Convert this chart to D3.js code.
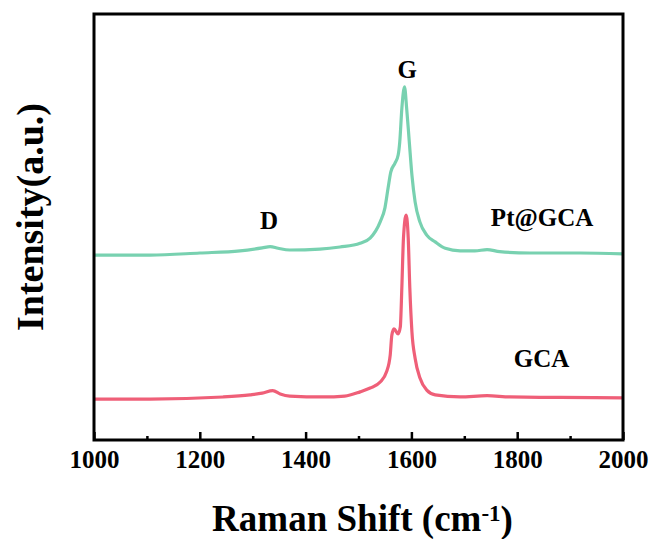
<!DOCTYPE html>
<html>
<head>
<meta charset="utf-8">
<script src="https://cdn.jsdelivr.net/npm/d3@7"></script>
<style>
  body { margin: 0; background: #fff; }
  svg text { font-family: "Liberation Serif", "Times New Roman", serif; font-weight: bold; fill: #000; }
</style>
</head>
<body>
<div id="chart"></div>
<script>
// Raman shift (cm-1) sampled along each trace
var shiftPt = [1000, 1106, 1200, 1276, 1318, 1333, 1348, 1370, 1427, 1465, 1503, 1522, 1541, 1550, 1556,
    1561, 1569, 1575, 1578, 1582, 1587, 1591, 1596, 1601, 1607, 1616, 1629, 1645, 1664, 1692, 1720, 1743,
    1767, 1824, 1919, 2000];
var intensityPt = [43.4, 43.4, 43.9, 44.4, 45.1, 45.4, 45.0, 44.6, 44.8, 45.3, 46.2, 47.4, 51.2, 54.5, 59.2,
    62.9, 65.0, 66.9, 70.0, 77.9, 82.9, 77.9, 70.0, 62.2, 55.9, 51.2, 48.1, 46.5, 45.0, 44.4, 44.4, 44.7,
    44.2, 43.9, 43.9, 43.7];

var shiftGCA = [1000, 1106, 1244, 1295, 1318, 1338, 1352, 1370, 1433, 1474, 1503, 1522, 1541, 1553, 1560,
    1563, 1567, 1575, 1579, 1582, 1585, 1590, 1594, 1597, 1601, 1607, 1616, 1629, 1645, 1692, 1743, 1786,
    1881, 2000];
var intensityGCA = [9.6, 9.6, 10.1, 10.6, 11.0, 11.6, 10.8, 10.3, 10.1, 10.3, 11.3, 12.2, 13.6, 16.0, 20.0,
    24.6, 26.1, 24.9, 26.5, 36.0, 47.4, 52.8, 47.4, 35.7, 25.4, 19.2, 14.6, 11.7, 10.6, 10.1, 10.4, 10.1,
    10.0, 9.9];

var majorTicks = [1000, 1200, 1400, 1600, 1800, 2000];
var minorTicks = [1100, 1300, 1500, 1700, 1900];

var seriesNames = ["Pt@GCA", "GCA"];
var seriesColors = ["#78d1b0", "#ef5f78"];

var peakNames = ["G", "D"];
var peakShift = [1592, 1331];
var peakLevel = [85, 49.5];
var nameShift = [1847, 1846];
var nameLevel = [50.2, 17.1];

var margin = { top: 14, right: 31, bottom: 99, left: 94 },
    width = 654 - margin.left - margin.right,
    height = 539 - margin.top - margin.bottom;

var svg = d3.select("#chart").append("svg")
    .attr("width", 654)
    .attr("height", 539)
    .append("g")
    .attr("transform", "translate(" + margin.left + "," + margin.top + ")");

var x = d3.scaleLinear().domain([1000, 2000]).range([0, width]);
var y = d3.scaleLinear().domain([0, 100]).range([height, 0]);

var line = d3.line()
    .x(function (d) { return x(d[0]); })
    .y(function (d) { return y(d[1]); })
    .curve(d3.curveMonotoneX);

var series = [d3.zip(shiftPt, intensityPt), d3.zip(shiftGCA, intensityGCA)];

svg.selectAll(".trace")
    .data(series)
    .enter().append("path")
    .attr("class", "trace")
    .attr("fill", "none")
    .attr("stroke", function (d, i) { return seriesColors[i]; })
    .attr("stroke-width", 3.2)
    .attr("stroke-linejoin", "round")
    .attr("d", line);

// inward ticks on the bottom edge
var xAxis = svg.append("g")
    .attr("transform", "translate(0," + height + ")")
    .call(d3.axisBottom(x).tickValues(majorTicks).tickSize(-8).tickPadding(10).tickFormat(d3.format("d")));
xAxis.select(".domain").remove();
xAxis.selectAll("line").attr("stroke", "#000").attr("stroke-width", 2.5);
xAxis.selectAll("text").style("font-size", "25px");

var xMinor = svg.append("g")
    .attr("transform", "translate(0," + height + ")")
    .call(d3.axisBottom(x).tickValues(minorTicks).tickSize(-4).tickFormat(""));
xMinor.select(".domain").remove();
xMinor.selectAll("line").attr("stroke", "#000").attr("stroke-width", 2.5);

svg.append("rect")
    .attr("width", width)
    .attr("height", height)
    .attr("fill", "none")
    .attr("stroke", "#000")
    .attr("stroke-width", 3);

svg.selectAll(".peak")
    .data(peakNames)
    .enter().append("text")
    .attr("class", "peak")
    .attr("x", function (d, i) { return x(peakShift[i]); })
    .attr("y", function (d, i) { return y(peakLevel[i]); })
    .attr("text-anchor", "middle")
    .style("font-size", "25px")
    .text(function (d) { return d; });

svg.selectAll(".name")
    .data(seriesNames)
    .enter().append("text")
    .attr("class", "name")
    .attr("x", function (d, i) { return x(nameShift[i]); })
    .attr("y", function (d, i) { return y(nameLevel[i]); })
    .attr("text-anchor", "middle")
    .style("font-size", "25px")
    .text(function (d) { return d; });

var xTitle = svg.append("text")
    .attr("x", width / 2 + 4)
    .attr("y", height + 91)
    .attr("text-anchor", "middle")
    .style("font-size", "37px");
xTitle.append("tspan").text("Raman Shift (cm");
xTitle.append("tspan").attr("dy", "-0.45em").style("font-size", "23px").text("-1");
xTitle.append("tspan").attr("dy", "0.3em").text(")");

svg.append("text")
    .attr("transform", "rotate(-90)")
    .attr("x", -(217 - margin.top))
    .attr("y", 43 - margin.left)
    .attr("text-anchor", "middle")
    .style("font-size", "38px")
    .text("Intensity(a.u.)");
</script>
</body>
</html>
